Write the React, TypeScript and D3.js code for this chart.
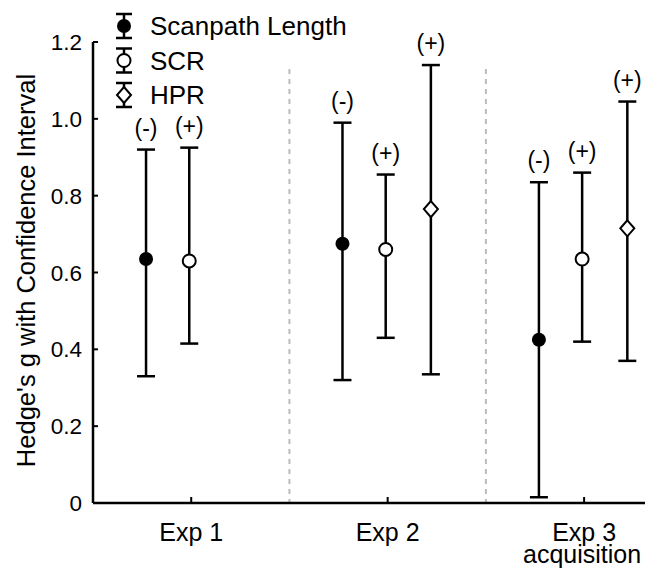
import {useMemo} from 'react'
import * as d3 from 'd3'

const WIDTH = 657
const HEIGHT = 570
const MARGIN = {top: 42, right: 12, bottom: 67, left: 93}

const experiments = ['Exp 1', 'Exp 2', 'Exp 3']
const expSubLabels = ['', '', 'acquisition']
const yTicks = [0, 0.2, 0.4, 0.6, 0.8, 1.0, 1.2]
const yTickLabels = ['0', '0.2', '0.4', '0.6', '0.8', '1.0', '1.2']

const seriesNames = ['Scanpath Length', 'SCR', 'HPR']
const seriesOffsets = [-0.23, -0.01, 0.22]

// one row per series, one value per experiment (null = not measured)
const means = [
  [0.635, 0.675, 0.425],
  [0.63, 0.66, 0.635],
  [null, 0.765, 0.715],
]
const lowers = [
  [0.33, 0.32, 0.015],
  [0.415, 0.43, 0.42],
  [null, 0.335, 0.37],
]
const uppers = [
  [0.92, 0.99, 0.835],
  [0.925, 0.855, 0.86],
  [null, 1.14, 1.045],
]
const signs = [
  ['(-)', '(-)', '(-)'],
  ['(+)', '(+)', '(+)'],
  [null, '(+)', '(+)'],
]

const FONT = 'Liberation Sans, Arial, sans-serif'

const Marker = ({kind, x, y}: {kind: number; x: number; y: number}) => {
  if (kind === 0) return <circle cx={x} cy={y} r={7} fill="#000" />
  if (kind === 1) return <circle cx={x} cy={y} r={6.5} fill="#fff" stroke="#000" strokeWidth={2} />
  return (
    <path
      d={`M${x},${y - 8} L${x + 7},${y} L${x},${y + 8} L${x - 7},${y} Z`}
      fill="#fff"
      stroke="#000"
      strokeWidth={2}
    />
  )
}

export default function App() {
  const boundsWidth = WIDTH - MARGIN.left - MARGIN.right
  const boundsHeight = HEIGHT - MARGIN.top - MARGIN.bottom

  const xScale = useMemo(() => d3.scaleLinear().domain([0.5, 3.31]).range([0, boundsWidth]), [boundsWidth])
  const yScale = useMemo(() => d3.scaleLinear().domain([0, 1.2]).range([boundsHeight, 0]), [boundsHeight])

  const capHalf = 9

  return (
    <svg width={WIDTH} height={HEIGHT} style={{position: 'absolute', left: 0, top: 0, fontFamily: FONT}}>
      <rect width={WIDTH} height={HEIGHT} fill="#fff" />
      <g transform={`translate(${MARGIN.left},${MARGIN.top})`}>
        {/* separators */}
        {[1.5, 2.5].map(v => (
          <line
            key={v}
            x1={xScale(v)}
            x2={xScale(v)}
            y1={yScale(1.13)}
            y2={boundsHeight}
            stroke="#bbb"
            strokeWidth={2}
            strokeDasharray="5,5"
          />
        ))}

        {/* y axis */}
        <line x1={0} x2={0} y1={0} y2={boundsHeight} stroke="#000" strokeWidth={2.5} />
        {yTicks.map((t, i) => (
          <g key={t}>
            <line x1={0} x2={5} y1={yScale(t)} y2={yScale(t)} stroke="#000" strokeWidth={2} />
            <text x={-11} y={yScale(t)} dy="0.36em" textAnchor="end" fontSize={22.5}>
              {yTickLabels[i]}
            </text>
          </g>
        ))}
        <text
          transform={`translate(${-58},${boundsHeight / 2 - 2}) rotate(-90)`}
          textAnchor="middle"
          fontSize={25.5}>
          Hedge's g with Confidence Interval
        </text>

        {/* x axis */}
        <line x1={0} x2={boundsWidth} y1={boundsHeight} y2={boundsHeight} stroke="#000" strokeWidth={2.5} />
        {experiments.map((e, i) => (
          <g key={e} transform={`translate(${xScale(i + 1)},0)`}>
            <line y1={boundsHeight} y2={boundsHeight - 6} stroke="#000" strokeWidth={2} />
            <text y={boundsHeight + 38} textAnchor="middle" fontSize={25}>
              <tspan x={0}>{e}</tspan>
              {expSubLabels[i] && (
                <tspan x={-2} dy={21.5}>
                  {expSubLabels[i]}
                </tspan>
              )}
            </text>
          </g>
        ))}

        {/* error bars */}
        {seriesNames.map((s, si) =>
          experiments.map((e, ei) => {
            const m = means[si][ei]
            const lo = lowers[si][ei]
            const hi = uppers[si][ei]
            if (m === null || lo === null || hi === null) return null
            const x = xScale(ei + 1 + seriesOffsets[si])
            return (
              <g key={s + e}>
                <line x1={x} x2={x} y1={yScale(lo)} y2={yScale(hi)} stroke="#000" strokeWidth={2.5} />
                <line x1={x - capHalf} x2={x + capHalf} y1={yScale(lo)} y2={yScale(lo)} stroke="#000" strokeWidth={2.5} />
                <line x1={x - capHalf} x2={x + capHalf} y1={yScale(hi)} y2={yScale(hi)} stroke="#000" strokeWidth={2.5} />
                <Marker kind={si} x={x} y={yScale(m)} />
                <text x={x} y={yScale(hi) - 14} textAnchor="middle" fontSize={23}>
                  {signs[si][ei]}
                </text>
              </g>
            )
          }),
        )}
      </g>

      {/* legend */}
      {seriesNames.map((s, i) => {
        const cy = 26 + i * 34.5
        const x = 124
        return (
          <g key={s}>
            <line x1={x} x2={x} y1={cy - 12} y2={cy + 12} stroke="#000" strokeWidth={2.5} />
            <line x1={x - 8} x2={x + 8} y1={cy - 12} y2={cy - 12} stroke="#000" strokeWidth={2.5} />
            <line x1={x - 8} x2={x + 8} y1={cy + 12} y2={cy + 12} stroke="#000" strokeWidth={2.5} />
            <Marker kind={i} x={x} y={cy} />
            <text x={150} y={cy} dy="0.36em" fontSize={26}>
              {s}
            </text>
          </g>
        )
      })}
    </svg>
  )
}
